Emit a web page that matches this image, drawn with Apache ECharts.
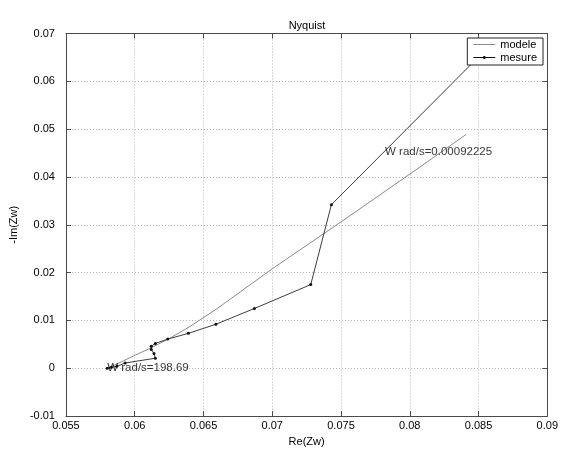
<!DOCTYPE html>
<html>
<head>
<meta charset="utf-8">
<script src="https://cdn.jsdelivr.net/npm/echarts@6/dist/echarts.min.js"></script>
<style>
  html, body { margin: 0; padding: 0; background: #fff; }
  #chart { width: 561px; height: 452px; }
</style>
</head>
<body>
<div id="chart"></div>
<script>
// Model impedance curve: real part and minus imaginary part
const modeleRe = [0.0580, 0.0590, 0.0600, 0.0612, 0.0625, 0.0640, 0.0660, 0.0700, 0.0750, 0.0800, 0.0841];
const modeleIm = [0.0000, 0.0013, 0.0027, 0.0043, 0.0062, 0.0087, 0.0125, 0.0208, 0.0306, 0.0406, 0.0489];

// Measured impedance points, from high to low frequency
const mesureRe = [0.0580, 0.0583, 0.0587, 0.0593, 0.0615, 0.0614, 0.0612, 0.0612, 0.0615, 0.0624, 0.0639, 0.0659, 0.0687, 0.0728, 0.0743, 0.0860];
const mesureIm = [0.0000, 0.0002, 0.0004, 0.0011, 0.0021, 0.0031, 0.0039, 0.0046, 0.0052, 0.0061, 0.0073, 0.0092, 0.0125, 0.0175, 0.0342, 0.0680];

// Frequency annotations
const noteTexts = ['W rad/s=198.69', 'W rad/s=0.00092225'];
const noteRe = [0.0580, 0.0782];
const noteIm = [0.0000, 0.0453];

// Axis ranges and tick steps
const xRange = [0.055, 0.09], xStep = 0.005;
const yRange = [-0.01, 0.07], yStep = 0.01;

const pair = (xs, ys) => xs.map((x, i) => [x, ys[i]]);
const fmt = v => String(parseFloat(v.toFixed(4)));

const FONT = '"Liberation Sans", Arial, sans-serif';
const BOX = '#4a4a4a';
const GRIDC = '#b4b4b4';

function xAxisDef(pos, showLabel) {
  return {
    type: 'value', position: pos, min: xRange[0], max: xRange[1], interval: xStep,
    name: showLabel ? 'Re(Zw)' : '', nameLocation: 'middle', nameGap: 18,
    nameTextStyle: { color: '#000', fontSize: 11, fontFamily: FONT },
    axisLine: { show: true, onZero: false, lineStyle: { color: BOX, width: 1 } },
    axisTick: { show: true, inside: true, length: 5, lineStyle: { color: BOX } },
    axisLabel: { show: showLabel, color: '#000', fontSize: 11, fontFamily: FONT, margin: 4, formatter: fmt },
    splitLine: { show: showLabel, lineStyle: { color: GRIDC, type: [1, 2], width: 1 } }
  };
}
function yAxisDef(pos, showLabel) {
  return {
    type: 'value', position: pos, min: yRange[0], max: yRange[1], interval: yStep,
    name: showLabel ? '-Im(Zw)' : '', nameLocation: 'middle', nameGap: 30,
    nameTextStyle: { color: '#000', fontSize: 11, fontFamily: FONT },
    axisLine: { show: true, onZero: false, lineStyle: { color: BOX, width: 1 } },
    axisTick: { show: true, inside: true, length: 5, lineStyle: { color: BOX } },
    axisLabel: { show: showLabel, color: '#000', fontSize: 11, fontFamily: FONT, margin: 11, formatter: fmt },
    splitLine: { show: showLabel, lineStyle: { color: GRIDC, type: [1, 2], width: 1 } }
  };
}

const chart = echarts.init(document.getElementById('chart'), null, { renderer: 'canvas' });
chart.setOption({
  animation: false,
  backgroundColor: '#fff',
  title: {
    text: 'Nyquist', left: 302, top: 15, textAlign: 'center',
    textStyle: { color: '#000', fontSize: 11, fontWeight: 'normal', fontFamily: FONT }
  },
  grid: { left: 55, right: 13, top: 33.5, bottom: 28.5, containLabel: false },
  xAxis: [xAxisDef('bottom', true), xAxisDef('top', false)],
  yAxis: [yAxisDef('left', true), yAxisDef('right', false)],
  legend: {
    data: [
      { name: 'modele', icon: 'path://M0,1 L22,1 L22,2 L0,2 Z' },
      { name: 'mesure', icon: 'path://M0,1 L10,1 L10,0 L12,0 L12,1 L22,1 L22,2 L12,2 L12,3 L10,3 L10,2 L0,2 Z' }
    ],
    orient: 'vertical', right: 18, top: 38,
    backgroundColor: '#fff', borderColor: '#222', borderWidth: 1, borderRadius: 0,
    padding: [1, 6, 2, 6], itemGap: 2, itemWidth: 22, itemHeight: 13,
    textStyle: { color: '#000', fontSize: 11, fontFamily: FONT }
  },
  series: [
    {
      name: 'modele', type: 'line', data: pair(modeleRe, modeleIm),
      symbol: 'none', smooth: false,
      lineStyle: { color: '#8a8a8a', width: 1 }, itemStyle: { color: '#8a8a8a' }
    },
    {
      name: 'mesure', type: 'line', data: pair(mesureRe, mesureIm),
      symbol: 'circle', symbolSize: 3, showSymbol: true,
      lineStyle: { color: '#3c3c3c', width: 1 }, itemStyle: { color: '#111' }
    },
    {
      name: 'notes', type: 'scatter', silent: true, symbolSize: 0,
      data: noteTexts.map((t, i) => ({ name: t, value: [noteRe[i], noteIm[i]] })),
      label: {
        show: true, position: 'right', distance: 0, formatter: p => p.name,
        color: '#000', fontSize: 11.5, fontFamily: FONT
      },
      z: 5
    }
  ]
});
</script>
</body>
</html>
